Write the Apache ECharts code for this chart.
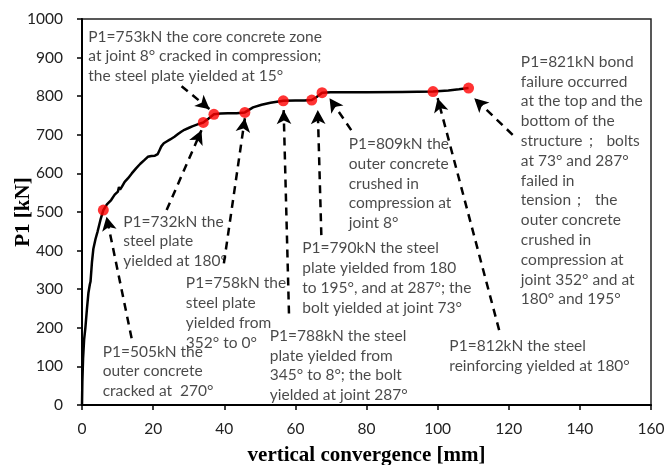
<!DOCTYPE html>
<html>
<head>
<meta charset="utf-8">
<script src="https://cdn.jsdelivr.net/npm/echarts@6/dist/echarts.min.js"></script>
<style>
html,body{margin:0;padding:0;background:#fff;}
#chart{width:665px;height:465px;}
</style>
</head>
<body>
<div id="chart"></div>
<script>
// Load-convergence curve
var curveX = [0,0.1,0.3,0.6,0.95,1.4,1.8,2.2,2.4,2.8,3.2,3.8,4.4,5.2,6.0,7.0,8.2,9.2,10.1,10.4,10.7,11.2,12.0,12.9,14.0,15.2,16.4,17.6,18.5,19.5,20.5,21.3,21.8,22.3,23.0,23.7,24.8,26.0,27.0,27.9,28.8,29.8,31.0,32.5,34.1,35.6,37.1,39.0,41.0,43.5,45.8,48.1,50.5,53.0,56.6,60.0,62.5,64.6,66.0,67.5,70,80,90,98.7,103,106,108.7];
var curveY = [0,60,120,170,200,250,290,312,320,370,405,430,450,480,505,520,531,545,553,565,558,565,578,587,600,613,625,635,643,645,646,650,660,670,678,682,688,695,702,708,713,717,722,727,732,742,753,755,756,756,758,771,778,783,788,789,789,790,798,809,810,810,811,812,815,818,821];

// Key events (red dots)
var eventX = [6.0,34.1,37.1,45.8,56.6,64.6,67.5,98.7,108.7];
var eventY = [505,732,753,758,788,790,809,812,821];

// Annotation texts
var noteText = [
  "P1=753kN the core concrete zone\nat joint 8° cracked in compression;\nthe steel plate yielded at 15°",
  "P1=732kN the\nsteel plate\nyielded at 180°",
  "P1=758kN the\nsteel plate\nyielded from\n352° to 0°",
  "P1=505kN the\nouter concrete\ncracked at  270°",
  "P1=788kN the steel\nplate yielded from\n345° to 8°; the bolt\nyielded at joint 287°",
  "P1=790kN the steel\nplate yielded from 180\nto 195°, and at 287°; the\nbolt yielded at joint 73°",
  "P1=809kN the\nouter concrete\ncrushed in\ncompression at\njoint 8°",
  "P1=812kN the steel\nreinforcing yielded at 180°",
  "P1=821kN bond\nfailure occurred\nat the top and the\nbottom of the\nstructure；  bolts\nat 73° and 287°\nfailed in\ntension；  the\nouter concrete\ncrushed in\ncompression at\njoint 352° and at\n180° and 195°"
];
// top-left anchor of each text block (data coords)
var noteX = [1.77,11.6,29.2,5.8,52.8,61.95,75.0,103.3,123.4];
var noteY = [980,501,341,164,205,432,702,179,915];

// Dashed arrows: start -> end (data coords)
var arrowX0 = [13.95,23.8,28.0,39.9,58.2,67.3,75.7,117.3,121.1];
var arrowY0 = [173,505,826,367,237,440,712,194,700];
var arrowX1 = [6.9,33.6,35.9,45.8,56.7,66.3,69.6,100.0,110.3];
var arrowY1 = [488,712,766,743,764,764,795,795,795];

var xTicks = [0,20,40,60,80,100,120,140,160];
var yTicks = [0,100,200,300,400,500,600,700,800,900,1000];

var curve = curveX.map(function(x,i){return [x,curveY[i]];});
var events = eventX.map(function(x,i){return [x,eventY[i]];});
var notes = noteX.map(function(x,i){return {value:[x,noteY[i]], label:{formatter:noteText[i]}};});
var arrows = arrowX0.map(function(x,i){return [{coord:[x,arrowY0[i]]},{coord:[arrowX1[i],arrowY1[i]]}];});

var chart = echarts.init(document.getElementById('chart'), null, {renderer:'canvas'});
var tickFont = {fontFamily:'Lato', fontSize:15.5, color:'#222', formatter:function(v){return String(v);}};
var nameFont = {fontFamily:'Liberation Serif', fontWeight:'bold', fontSize:21, color:'#000'};
chart.setOption({
  animation:false,
  backgroundColor:'#fff',
  grid:{left:82, right:14, top:19, bottom:60, containLabel:false, outerBoundsMode:'none',
        show:true, borderColor:'#222', borderWidth:1.5},
  xAxis:{
    type:'value', min:xTicks[0], max:xTicks[xTicks.length-1], interval:20,
    name:'vertical convergence [mm]', nameLocation:'middle', nameGap:40, nameMoveOverlap:false,
    nameTextStyle:nameFont,
    axisLine:{show:true, onZero:false, lineStyle:{color:'#000', width:2}},
    axisTick:{show:true, inside:false, length:5, lineStyle:{color:'#000', width:1.5}},
    axisLabel:Object.assign({margin:16}, tickFont),
    splitLine:{show:false}
  },
  yAxis:{
    type:'value', min:yTicks[0], max:yTicks[yTicks.length-1], interval:100,
    name:'P1 [kN]', nameLocation:'middle', nameGap:48, nameRotate:90, nameMoveOverlap:false,
    nameTextStyle:nameFont,
    axisLine:{show:true, onZero:false, lineStyle:{color:'#000', width:2}},
    axisTick:{show:true, inside:false, length:5, lineStyle:{color:'#000', width:1.5}},
    axisLabel:Object.assign({margin:19}, tickFont),
    splitLine:{show:false}
  },
  series:[
    {
      type:'line', data:curve, showSymbol:false, smooth:false,
      lineStyle:{color:'#000', width:2.5}, z:2,
      markLine:{
        silent:true, symbol:['none','arrow'], symbolSize:[11,14],
        label:{show:false},
        lineStyle:{color:'#000', width:2.5, type:[8,6]},
        itemStyle:{color:'#000'},
        data:arrows
      }
    },
    {
      type:'scatter', data:events, symbol:'circle', symbolSize:11,
      itemStyle:{color:'#ff0000'}, z:5
    },
    {
      type:'scatter', data:notes, symbolSize:0, silent:true, z:4,
      label:{show:true, position:[0,0], align:'left', verticalAlign:'top',
        fontFamily:'Lato', fontSize:15.5, lineHeight:19.8, color:'#1a1a1a'}
    }
  ]
});
</script>
</body>
</html>
